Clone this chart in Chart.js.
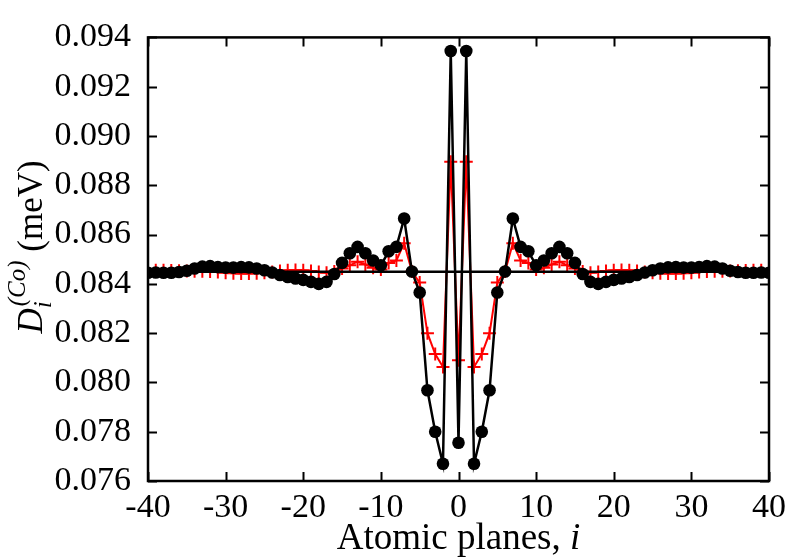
<!DOCTYPE html>
<html>
<head>
<meta charset="utf-8">
<script src="https://cdn.jsdelivr.net/npm/chart.js@4.4.1/dist/chart.umd.min.js"></script>
<style>
    html, body { margin: 0; padding: 0; background: #fff; }
    #wrap { width: 794px; height: 558px; }
</style>
</head>
<body>
<div id="wrap"><canvas id="profileChart" width="794" height="558"></canvas></div>
<script>
// Atomic plane index i
const planes = [
    -40, -39, -38, -37, -36, -35, -34, -33, -32, -31,
    -30, -29, -28, -27, -26, -25, -24, -23, -22, -21,
    -20, -19, -18, -17, -16, -15, -14, -13, -12, -11,
    -10, -9, -8, -7, -6, -5, -4, -3, -2, -1,
    0,
    1, 2, 3, 4, 5, 6, 7, 8, 9, 10,
    11, 12, 13, 14, 15, 16, 17, 18, 19, 20,
    21, 22, 23, 24, 25, 26, 27, 28, 29, 30,
    31, 32, 33, 34, 35, 36, 37, 38, 39, 40
];

// D_i^(Co), full calculation (black circles)
const dFull = [
    0.08445, 0.08446, 0.08445, 0.08445, 0.08448, 0.08453, 0.08462, 0.08470, 0.08472, 0.08468,
    0.08466, 0.08466, 0.08468, 0.08467, 0.08462, 0.08455, 0.08446, 0.08436, 0.08428, 0.08422,
    0.08416, 0.08408, 0.08400, 0.08408, 0.08440, 0.08485, 0.08524, 0.08550, 0.08524, 0.08495,
    0.08475, 0.08532, 0.08550, 0.08665, 0.08450, 0.08365, 0.07968, 0.07800, 0.07670, 0.09345,
    0.07755,
    0.09345, 0.07670, 0.07800, 0.07968, 0.08365, 0.08450, 0.08665, 0.08550, 0.08532, 0.08475,
    0.08495, 0.08524, 0.08550, 0.08524, 0.08485, 0.08440, 0.08408, 0.08400, 0.08408, 0.08416,
    0.08422, 0.08428, 0.08436, 0.08446, 0.08455, 0.08462, 0.08467, 0.08468, 0.08466, 0.08466,
    0.08468, 0.08472, 0.08470, 0.08462, 0.08453, 0.08448, 0.08445, 0.08445, 0.08446, 0.08445
];

// D_i^(Co), second calculation (red crosses)
const dModel = [
    0.08455, 0.08455, 0.08455, 0.08454, 0.08453, 0.08452, 0.08451, 0.08451, 0.08450, 0.08448,
    0.08445, 0.08443, 0.08442, 0.08442, 0.08443, 0.08445, 0.08448, 0.08452, 0.08455, 0.08456,
    0.08455, 0.08452, 0.08448, 0.08445, 0.08450, 0.08462, 0.08475, 0.08490, 0.08478, 0.08465,
    0.08458, 0.08485, 0.08495, 0.08565, 0.08450, 0.08405, 0.08200, 0.08115, 0.08063, 0.08895,
    0.08090,
    0.08895, 0.08063, 0.08115, 0.08200, 0.08405, 0.08450, 0.08565, 0.08495, 0.08485, 0.08458,
    0.08465, 0.08478, 0.08490, 0.08475, 0.08462, 0.08450, 0.08445, 0.08448, 0.08452, 0.08455,
    0.08456, 0.08455, 0.08452, 0.08448, 0.08445, 0.08443, 0.08442, 0.08442, 0.08443, 0.08445,
    0.08448, 0.08450, 0.08451, 0.08451, 0.08452, 0.08453, 0.08454, 0.08455, 0.08455, 0.08455
];

// bulk value (horizontal line)
const bulkLevel = 0.08449;
const bulkRange = [-40, 40];

const xTicks = [-40, -30, -20, -10, 0, 10, 20, 30, 40];
const yTicks = [0.076, 0.078, 0.080, 0.082, 0.084, 0.086, 0.088, 0.090, 0.092, 0.094];

const FONT = "'Liberation Serif', 'Times New Roman', serif";

/**
 * Frame, inward ticks on all four sides and the axis titles
 */
const framePlugin = {
    id: 'framePlugin',
    afterDraw(chart) {
        const ctx = chart.ctx;
        const a = chart.chartArea;
        const xs = chart.scales.x;
        const ys = chart.scales.y;
        const tl = 9;

        ctx.save();
        ctx.strokeStyle = '#000';
        ctx.lineWidth = 2;
        ctx.beginPath();
        xTicks.forEach(function(v) {
            const px = Math.round(xs.getPixelForValue(v)) + 0.5;
            ctx.moveTo(px, a.bottom); ctx.lineTo(px, a.bottom - tl);
            ctx.moveTo(px, a.top); ctx.lineTo(px, a.top + tl);
        });
        yTicks.forEach(function(v) {
            const py = Math.round(ys.getPixelForValue(v)) + 0.5;
            ctx.moveTo(a.left, py); ctx.lineTo(a.left + tl, py);
            ctx.moveTo(a.right, py); ctx.lineTo(a.right - tl, py);
        });
        ctx.stroke();

        ctx.lineWidth = 2.5;
        ctx.strokeRect(a.left, a.top, a.right - a.left, a.bottom - a.top);

        // x title: "Atomic planes, i"
        ctx.fillStyle = '#000';
        ctx.textBaseline = 'alphabetic';
        ctx.textAlign = 'left';
        const f1 = '37px ' + FONT;
        const f1i = 'italic 37px ' + FONT;
        ctx.font = f1;
        const w1 = ctx.measureText('Atomic planes, ').width;
        ctx.font = f1i;
        const w2 = ctx.measureText('i').width;
        const cx = (a.left + a.right) / 2;
        let sx = cx - (w1 + w2) / 2;
        ctx.font = f1;
        ctx.fillText('Atomic planes, ', sx, 549);
        ctx.font = f1i;
        ctx.fillText('i', sx + w1, 549);

        // y title: D_i^(Co) (meV), rotated
        const big = 35, small = 25;
        ctx.translate(42, 247);
        ctx.rotate(-Math.PI / 2);
        ctx.font = 'italic ' + big + 'px ' + FONT;
        const wD = ctx.measureText('D').width;
        ctx.font = 'italic ' + small + 'px ' + FONT;
        const wSup = ctx.measureText('(Co)').width;
        const wSub = ctx.measureText('i').width;
        ctx.font = big + 'px ' + FONT;
        const wUnit = ctx.measureText(' (meV)').width;
        const total = wD + 2 + Math.max(wSup, wSub) + wUnit;
        let px = -total / 2;
        ctx.font = 'italic ' + big + 'px ' + FONT;
        ctx.fillText('D', px, 0);
        px += wD + 2;
        ctx.font = 'italic ' + small + 'px ' + FONT;
        ctx.fillText('(Co)', px, -17);
        ctx.fillText('i', px - 2, 9);
        px += Math.max(wSup, wSub);
        ctx.font = big + 'px ' + FONT;
        ctx.fillText(' (meV)', px, 0);
        ctx.restore();
    }
};

function toPoints(xv, yv) {
    return xv.map(function(x, i) { return { x: x, y: yv[i] }; });
}

const ctx = document.getElementById('profileChart').getContext('2d');

new Chart(ctx, {
    type: 'line',
    data: {
        datasets: [
            {
                label: 'full',
                data: toPoints(planes, dFull),
                borderColor: '#000',
                backgroundColor: '#000',
                borderWidth: 2.5,
                pointStyle: 'circle',
                pointRadius: 6.3,
                pointBorderWidth: 0,
                pointBackgroundColor: '#000',
                tension: 0,
            },
            {
                label: 'bulk',
                data: toPoints(bulkRange, [bulkLevel, bulkLevel]),
                borderColor: '#000',
                borderWidth: 2.5,
                pointRadius: 0,
                tension: 0,
            },
            {
                label: 'model',
                data: toPoints(planes, dModel),
                borderColor: '#ff0000',
                backgroundColor: '#ff0000',
                borderWidth: 2,
                pointStyle: 'cross',
                pointRadius: 6.5,
                pointBorderWidth: 2,
                pointBorderColor: '#ff0000',
                tension: 0,
            }
        ]
    },
    options: {
        responsive: false,
        animation: false,
        events: [],
        layout: {
            padding: { left: 0, right: 25, top: 23, bottom: 0 }
        },
        plugins: {
            legend: { display: false },
            tooltip: { enabled: false }
        },
        scales: {
            x: {
                type: 'linear',
                min: -40,
                max: 40,
                afterBuildTicks: function(scale) {
                    scale.ticks = xTicks.map(function(v) { return { value: v }; });
                },
                afterFit: function(scale) { scale.height = 77; },
                grid: { display: false, drawTicks: false },
                border: { display: false },
                ticks: {
                    color: '#000',
                    padding: 7,
                    maxRotation: 0,
                    font: { family: FONT, size: 34 },
                    callback: function(v) { return String(v); }
                }
            },
            y: {
                type: 'linear',
                min: 0.076,
                max: 0.094,
                afterBuildTicks: function(scale) {
                    scale.ticks = yTicks.map(function(v) { return { value: v }; });
                },
                afterFit: function(scale) { scale.width = 148; },
                grid: { display: false, drawTicks: false },
                border: { display: false },
                ticks: {
                    color: '#000',
                    padding: 17,
                    font: { family: FONT, size: 34 },
                    callback: function(v) { return v.toFixed(3); }
                }
            }
        }
    },
    plugins: [framePlugin]
});
</script>
</body>
</html>
